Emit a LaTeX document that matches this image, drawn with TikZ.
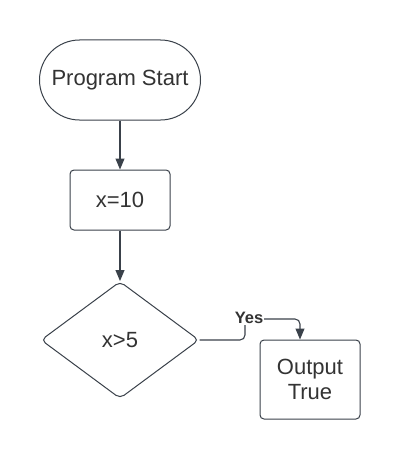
\documentclass[tikz,border=0pt]{standalone}
\usepackage{fontspec}
\setmainfont{Liberation Sans}
\usetikzlibrary{shapes.geometric,arrows.meta}
\definecolor{ln}{HTML}{3A414A}
\definecolor{tx}{HTML}{333333}
\begin{document}
\begin{tikzpicture}[x=1pt,y=-1pt,
  every node/.style={text=tx,font=\fontsize{22}{26}\selectfont},
  shp/.style={draw=ln,line width=1pt,fill=white},
  conn/.style={draw=ln,line width=1.1pt,-{Triangle[length=11pt,width=9pt]}}]
\useasboundingbox (0,0) rectangle (400,460);
\node[shp,minimum width=161pt,minimum height=80pt,rounded corners=40pt] (s) at (120,80) {Program Start};
\node[shp,minimum width=100pt,minimum height=60pt,rounded corners=4pt] (a) at (120,200) {x=10};
\node[shp,diamond,aspect=1.35,minimum width=158pt,minimum height=117pt,inner sep=0pt,rounded corners=5pt] (d) at (120,340) {x>5};
\node[shp,minimum width=100pt,minimum height=79pt,rounded corners=4pt,align=center] (o) at (310,379.5) {Output\\[-1pt]True};
\draw[conn] (s.south) -- (a.north);
\draw[conn] (a.south) -- (d.north);
\coordinate (c1) at (245,340);
\coordinate (c2) at (245,319);
\coordinate (c3) at (300,319);
\draw[conn,rounded corners=5pt] (d.east) -- (c1) -- (c2) -- (c3) -- (c3 |- o.north);
\node[fill=white,inner sep=1pt,font=\bfseries\fontsize{16.5}{19}\selectfont] (y) at (249,318) {Yes};
\end{tikzpicture}
\end{document}
